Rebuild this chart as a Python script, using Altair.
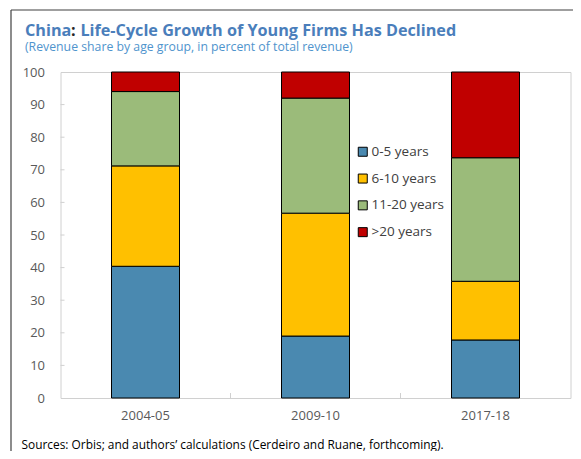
import altair as alt
import pandas as pd

periods = ["2004-05", "2009-10", "2017-18"]
groups = ["0-5 years", "6-10 years", "11-20 years", ">20 years"]
share_0_5 = [40.4, 19.0, 17.8]
share_6_10 = [30.8, 37.7, 18.0]
share_11_20 = [22.8, 35.3, 37.9]
share_20p = [6.0, 8.0, 26.3]
colors = ["#4A89B0", "#FFC000", "#9BBB7A", "#C00000"]
y_ticks = list(range(0, 101, 10))

title_parts = ["China", ":", "Life-Cycle Growth of Young Firms Has Declined"]
subtitle_text = "(Revenue share by age group, in percent of total revenue)"
source_text = "Sources: Orbis; and authors\u2019 calculations (Cerdeiro and Ruane, forthcoming)."

FONT = "Open Sans"
W, H = 510, 326
TITLE_BLUE = "#4A7EBB"
TITLE_SIZE = 16.2

rows = []
for gi, (g, vals) in enumerate(zip(groups, [share_0_5, share_6_10, share_11_20, share_20p])):
    for p, v in zip(periods, vals):
        rows.append({"period": p, "group": g, "order": gi, "share": v})
df = pd.DataFrame(rows)

x_scale = alt.Scale(domain=periods, paddingInner=0.6, paddingOuter=0.3)
y_scale = alt.Scale(domain=[0, 100], nice=False)
x_axis = alt.Axis(title=None, labelAngle=0, labelFont=FONT, labelFontSize=13,
                  labelColor="#595959", labelPadding=11, ticks=False, tickSize=0,
                  domain=False, grid=False)
y_axis = alt.Axis(title=None, values=y_ticks, labelFont=FONT, labelFontSize=13,
                  labelColor="#595959", labelPadding=16, ticks=False, tickSize=0,
                  labelOverlap=False, domain=False, grid=False)

bars = alt.Chart(df).mark_bar(stroke="black", strokeWidth=1).encode(
    x=alt.X("period:N", sort=periods, scale=x_scale, axis=x_axis),
    y=alt.Y("share:Q", stack="zero", scale=y_scale, axis=y_axis),
    color=alt.Color("group:N", scale=alt.Scale(domain=groups, range=colors),
                    legend=alt.Legend(title=None, orient="none", legendX=295.5, legendY=73,
                                      symbolType="square", symbolSize=81,
                                      symbolStrokeColor="black", symbolStrokeWidth=1,
                                      symbolOpacity=1,
                                      labelFont=FONT, labelFontSize=13.5, labelColor="#404040",
                                      labelOffset=2, rowPadding=11.8)),
    order=alt.Order("order:Q", sort="ascending"),
)

ytick_df = pd.DataFrame({"share": y_ticks[1:-1]})
yticks = alt.Chart(ytick_df).mark_rule(color="#d0d0d0", strokeWidth=1).encode(
    y=alt.Y("share:Q", scale=y_scale, axis=y_axis),
    x=alt.value(0), x2=alt.value(4),
)

xtick_df = pd.DataFrame({"period": periods[1:]})
xticks = alt.Chart(xtick_df).mark_rule(color="#d0d0d0", strokeWidth=1, xOffset=-85).encode(
    x=alt.X("period:N", sort=periods, scale=x_scale, axis=x_axis),
    y=alt.value(H - 5), y2=alt.value(H),
)

one = pd.DataFrame({"k": [0]})
frame_left = alt.Chart(one).mark_rule(color="#404040", strokeWidth=1.2).encode(
    x=alt.value(-49.5), y=alt.value(-62), y2=alt.value(400),
)
frame_top = alt.Chart(one).mark_rule(color="#404040", strokeWidth=1.2).encode(
    x=alt.value(-49.5), x2=alt.value(530), y=alt.value(-62),
)

# Open Sans Bold advance widths (per em) for "China", ":" and a space
w_china = 5791 / 2048 * TITLE_SIZE
w_colon = 612 / 2048 * TITLE_SIZE
w_space = 532 / 2048 * TITLE_SIZE
title_x = [-35.5, -35.5 + w_china + 0.3, -35.5 + w_china + w_colon + w_space + 0.6]
title_colors = [TITLE_BLUE, "#262626", TITLE_BLUE]
title_layers = [
    alt.Chart(one).mark_text(align="left", baseline="alphabetic", font=FONT,
                             fontSize=TITLE_SIZE, fontWeight="bold", color=c).encode(
        x=alt.value(xx), y=alt.value(-36), text=alt.value(t))
    for t, xx, c in zip(title_parts, title_x, title_colors)
]

subtitle = alt.Chart(one).mark_text(align="left", baseline="alphabetic", font=FONT,
                                     fontSize=12.27, color="#4F94CD").encode(
    x=alt.value(-35.5), y=alt.value(-21), text=alt.value(subtitle_text))
source = alt.Chart(one).mark_text(align="left", baseline="alphabetic", font=FONT,
                                   fontSize=11.9, color="#000000").encode(
    x=alt.value(-39), y=alt.value(377), text=alt.value(source_text))

chart = alt.layer(bars, yticks, xticks, frame_left, frame_top,
                  *title_layers, subtitle, source).properties(
    width=W, height=H,
    padding={"left": 52.5, "top": 64, "right": 2, "bottom": 53},
    autosize=alt.AutoSizeParams(type="none"),
).configure_view(stroke="#d0d0d0", strokeWidth=1)

chart.save("out.html", embed_options={"renderer": "svg", "actions": False})
